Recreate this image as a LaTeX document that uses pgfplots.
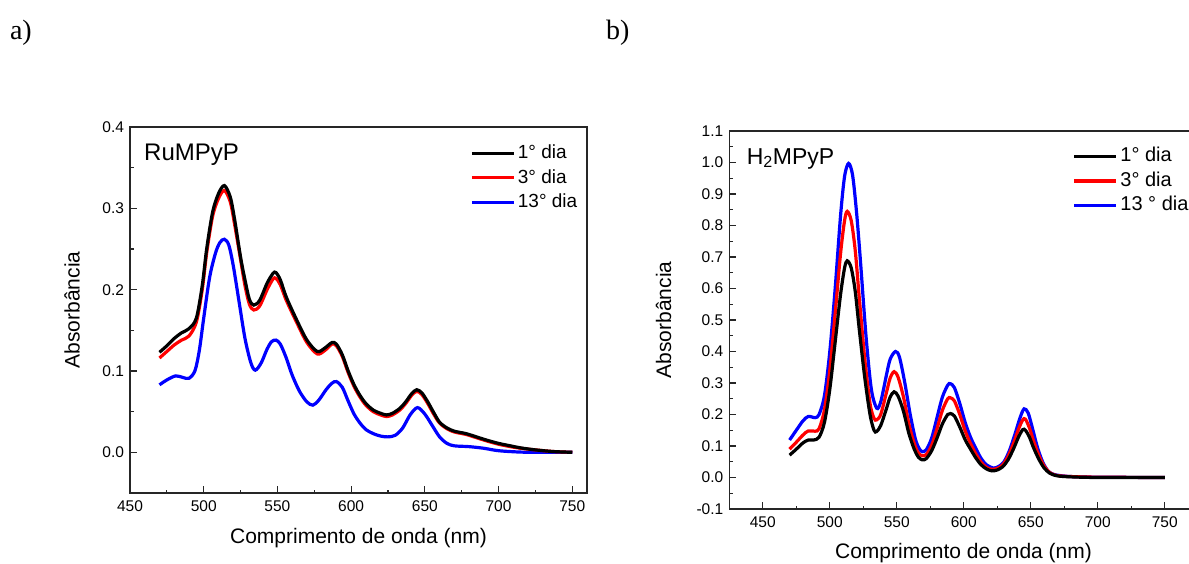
\documentclass[border=0pt]{standalone}
\usepackage{pgfplots}
\usepackage{pgfplotstable}
\pgfplotsset{compat=1.18}
\usepackage{fontspec}
\setmainfont{Liberation Sans}
\newfontfamily\seriffont{Liberation Serif}

% ---------- panel a: RuMPyP ----------
\pgfplotstableread{
x y
470 0.123
475 0.131
480 0.140
485 0.147
490 0.152
495 0.165
499 0.205
502 0.250
506 0.295
510 0.318
514 0.328
518 0.314
521 0.286
525 0.240
528 0.212
531 0.188
534 0.181
538 0.187
543 0.208
547 0.220
549 0.221
552 0.212
556 0.191
563 0.163
570 0.138
577 0.124
582 0.128
587 0.135
590 0.133
594 0.120
598 0.100
602 0.083
606 0.070
610 0.060
615 0.052
620 0.048
624 0.046
628 0.048
633 0.054
637 0.062
641 0.072
644.5 0.077
648 0.073
652 0.062
656 0.049
660 0.037
665 0.030
670 0.026
678 0.023
685 0.019
692 0.015
700 0.011
708 0.008
715 0.0055
725 0.003
737 0.001
750 0.000
}\adia
\pgfplotstableread{
x y
470 0.116
475 0.124
480 0.132
485 0.138
490 0.143
495 0.160
499 0.200
502 0.245
506 0.290
510 0.312
514 0.322
518 0.308
521 0.280
525 0.237
528 0.205
531 0.182
534 0.175
538 0.180
543 0.200
547 0.213
549 0.214
552 0.206
556 0.187
563 0.160
570 0.135
577 0.121
582 0.125
587 0.133
590 0.131
594 0.118
598 0.098
602 0.081
606 0.068
610 0.058
615 0.050
620 0.046
624 0.044
628 0.046
633 0.052
637 0.060
641 0.070
644.5 0.075
648 0.071
652 0.060
656 0.047
660 0.036
665 0.029
670 0.025
678 0.022
685 0.018
692 0.014
700 0.010
708 0.007
715 0.005
725 0.003
737 0.001
750 0.000
}\adib
\pgfplotstableread{
x y
470 0.083
475 0.089
481 0.094
486 0.092
490 0.091
494 0.100
497 0.125
500 0.165
504 0.215
508 0.245
511 0.258
514 0.262
517 0.255
520 0.230
524 0.185
528 0.140
532 0.110
535 0.101
539 0.110
543 0.127
546 0.136
549 0.138
552 0.133
556 0.116
560 0.095
565 0.075
570 0.062
574 0.058
578 0.064
583 0.077
587 0.085
590 0.087
594 0.080
598 0.063
602 0.047
606 0.036
610 0.028
615 0.023
620 0.020
625 0.019
630 0.021
635 0.030
640 0.046
645 0.055
650 0.047
655 0.033
660 0.019
665 0.011
670 0.008
680 0.007
690 0.005
700 0.002
715 0.0003
730 0.000
750 0.000
}\adic

% ---------- panel b: H2MPyP ----------
\pgfplotstableread{
x y
470 0.071
475 0.090
480 0.110
484 0.119
488 0.119
492 0.128
496 0.175
500 0.280
504 0.430
508 0.580
511 0.665
513 0.688
516 0.665
519 0.590
522 0.470
526 0.320
530 0.200
533 0.150
535 0.146
538 0.165
542 0.215
545 0.255
548 0.272
551 0.258
555 0.210
559 0.140
563 0.090
566 0.065
569 0.056
572 0.060
576 0.085
580 0.125
584 0.170
588 0.200
590 0.203
593 0.195
597 0.160
601 0.120
605 0.090
609 0.062
613 0.040
617 0.027
621 0.021
625 0.024
629 0.034
633 0.056
637 0.090
641 0.130
644 0.152
646 0.150
649 0.128
652 0.095
656 0.058
660 0.030
664 0.014
668 0.007
672 0.004
680 0.002
700 0.000
750 0.000
}\bdia
\pgfplotstableread{
x y
470 0.090
475 0.112
480 0.135
484 0.148
489 0.147
492 0.155
496 0.215
500 0.340
504 0.520
508 0.710
511 0.815
513 0.845
516 0.815
519 0.720
522 0.570
526 0.380
530 0.235
533 0.188
535 0.183
538 0.200
542 0.265
545 0.315
548 0.336
551 0.318
555 0.255
559 0.170
563 0.108
566 0.078
569 0.069
572 0.073
576 0.102
580 0.155
584 0.213
588 0.250
590 0.253
593 0.243
597 0.200
601 0.148
605 0.108
609 0.075
613 0.048
617 0.032
621 0.026
625 0.029
629 0.040
633 0.067
637 0.107
641 0.155
644 0.183
646 0.185
649 0.157
652 0.117
656 0.070
660 0.036
664 0.016
668 0.008
672 0.005
680 0.003
700 0.001
750 0.000
}\bdib
\pgfplotstableread{
x y
470 0.119
475 0.150
480 0.180
484 0.194
489 0.190
492 0.200
496 0.260
500 0.400
504 0.600
508 0.830
511 0.955
514 0.997
517 0.960
520 0.840
523 0.680
527 0.450
531 0.280
535 0.220
538 0.240
542 0.320
545 0.375
549 0.400
552 0.382
556 0.300
560 0.200
564 0.120
567 0.090
569 0.082
572 0.088
576 0.125
580 0.190
584 0.255
588 0.293
590 0.298
593 0.285
597 0.235
601 0.175
605 0.128
609 0.092
613 0.060
617 0.040
622 0.030
626 0.035
630 0.050
634 0.085
638 0.135
642 0.190
645 0.218
648 0.205
651 0.160
655 0.095
659 0.048
663 0.020
667 0.010
672 0.006
680 0.003
700 0.001
750 0.000
}\bdic

\pgfplotsset{
  common/.style={
    scale only axis,
    anchor=south west,
    axis line style={line width=1.3pt, black!85},
    every tick/.style={line width=1.1pt, black!85},
    tick align=inside,
    tick pos=left,
    major tick length=7pt,
    minor tick length=3.5pt,
    /pgf/number format/assume math mode=true,
    tick label style={font=\fontsize{15.5}{18}\selectfont},
    xticklabel style={yshift=-4pt},
    yticklabel style={xshift=-2.5pt, /pgf/number format/.cd, fixed, fixed zerofill, precision=1},
    label style={font=\fontsize{21}{25}\selectfont},
    xlabel={Comprimento de onda (nm)},
    ylabel={Absorbância},
    legend style={draw=none, fill=none, inner sep=0pt, anchor=north west,
      nodes={inner xsep=2.5pt, inner ysep=4pt, text height=13.5pt, text depth=3pt}},
    legend cell align=left,
    legend image code/.code={\draw[##1, line width=3.2pt] (0pt,0pt) -- (42pt,0pt);},
    every axis plot/.append style={line width=3.2pt, smooth},
  }
}

\begin{document}
\begin{tikzpicture}
\useasboundingbox (0pt,0pt) rectangle (1189pt,563pt);
\node[anchor=base west, inner sep=0pt, font=\seriffont\fontsize{28}{32}\selectfont] at (9.8pt,523.5pt) {a)};
\node[anchor=base west, inner sep=0pt, font=\seriffont\fontsize{28}{32}\selectfont] at (606pt,523.5pt) {b)};

\begin{axis}[common,
  at={(130pt,70pt)}, width=457pt, height=366pt,
  xmin=450, xmax=760, ymin=-0.05, ymax=0.4,
  xtick={450,500,550,600,650,700,750},
  minor xtick={475,525,575,625,675,725},
  ytick={0,0.1,0.2,0.3,0.4},
  minor ytick={-0.05,0.05,0.15,0.25,0.35},
  xlabel style={at={(axis description cs:0.5,-0.139)}, anchor=base},
  ylabel style={at={(axis description cs:-0.127,0.5)}, anchor=center},
  legend style={at={(axis description cs:0.744,0.962)}, font=\fontsize{19}{22}\selectfont},
]
\addlegendimage{black}
\addlegendimage{red}
\addlegendimage{blue}
\addplot[blue, forget plot] table {\adic};
\addplot[red, forget plot] table {\adib};
\addplot[black, forget plot] table {\adia};
\legend{1° dia, 3° dia, 13° dia}
\node[anchor=base west, inner sep=0pt, font=\fontsize{24}{28}\selectfont] at (axis description cs:0.0306,0.908) {RuMPyP};
\end{axis}

\begin{axis}[common,
  at={(729.3pt,54pt)}, width=482.4pt, height=378pt,
  xmin=425, xmax=785, ymin=-0.1, ymax=1.1,
  xtick={450,500,550,600,650,700,750},
  minor xtick={475,525,575,625,675,725},
  ytick={-0.1,0,0.1,0.2,0.3,0.4,0.5,0.6,0.7,0.8,0.9,1.0,1.1},
  minor ytick={-0.05,0.05,0.15,0.25,0.35,0.45,0.55,0.65,0.75,0.85,0.95,1.05},
  xlabel style={at={(axis description cs:0.4855,-0.130)}, anchor=base},
  ylabel style={at={(axis description cs:-0.136,0.5)}, anchor=center},
  legend style={at={(axis description cs:0.7115,0.9656)}, font=\fontsize{20}{23}\selectfont},
]
\addlegendimage{black}
\addlegendimage{red}
\addlegendimage{blue}
\addplot[blue, forget plot] table {\bdic};
\addplot[red, forget plot] table {\bdib};
\addplot[black, forget plot] table {\bdia};
\legend{1° dia, 3° dia, 13 ° dia}
\node[anchor=base west, inner sep=0pt, font=\fontsize{23}{27}\selectfont] at (axis description cs:0.036,0.912) {H\textsubscript{2}MPyP};
\end{axis}
\end{tikzpicture}
\end{document}
